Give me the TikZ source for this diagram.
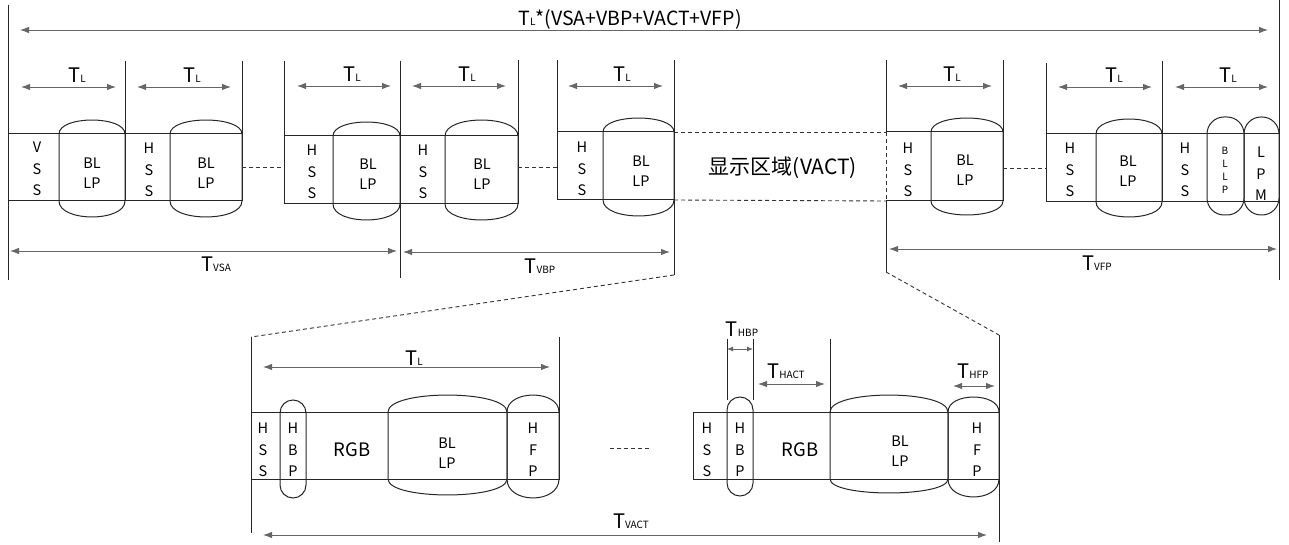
\documentclass[tikz,border=0pt]{standalone}
\usepackage{fontspec}
\setmainfont{Noto Sans CJK SC}
\usetikzlibrary{arrows.meta}
\tikzset{
  ln/.style={line width=1pt, draw=black!85},
  dim/.style={line width=0.9pt, draw=black!60, {Latex[length=9pt,width=6.5pt]}-{Latex[length=9pt,width=6.5pt]}},
  dimsmall/.style={line width=0.9pt, draw=black!60, {Latex[length=6pt,width=5pt]}-{Latex[length=6pt,width=5pt]}},
  dsh/.style={line width=0.9pt, draw=black!80, dash pattern=on 4pt off 3pt},
  txt/.style={font=\fontsize{14.5}{21.5}\selectfont, align=center, inner sep=0pt},
  tiny/.style={font=\fontsize{10}{13}\selectfont, align=center, inner sep=0pt},
  lab/.style={anchor=base, inner sep=0pt},
  pill/.style={ln, rounded corners=13pt},
  bigpill/.style={ln, rounded corners=17pt}
}
\newcommand\TT[1]{{\fontsize{20}{20}\selectfont T}{\fontsize{10}{10}\selectfont #1}}
\newcommand\bulge[6]{\draw[ln] (#1,#3) .. controls (#1,#3-1.33*#5) and (#2,#3-1.33*#5) .. (#2,#3) -- (#2,#4) .. controls (#2,#4+1.33*#6) and (#1,#4+1.33*#6) .. (#1,#4) -- cycle;}
\newcommand\dimar[5][dim]{\coordinate (#2-l) at (#3,#5); \coordinate (#2-r) at (#4,#5); \draw[#1] (#2-l) -- (#2-r);}
\begin{document}
\begin{tikzpicture}[x=1pt,y=-1pt]
\useasboundingbox (0,0) rectangle (1289,545);

% vertical guide lines
\foreach \x/\a/\b in {8/5/280, 125/61/134, 242/61/134, 284/61/136, 400/61/278, 518/60/136, 557/60/132, 674/60/275, 1003/60/132, 1046/63/134, 1162/61/134, 1279/0/280, 251/337/533, 559/337/412, 727/339/400, 753/339/400, 830/339/412, 999/335/542}
  \draw[ln] (\x,\a) -- (\x,\b);
\draw[ln] (886,60) -- (886,132);
\draw[dsh] (886,132) -- (886,201);
\draw[ln] (886,201) -- (886,272);

% top row boxes
\draw[ln] (8,134) rectangle (125,201);
\draw[ln] (125,134) rectangle (242,201);
\draw[ln] (284,136) rectangle (400,204);
\draw[ln] (400,136) rectangle (518,204);
\draw[ln] (557,132) rectangle (674,200);
\draw[dsh] (674,132) -- (886,132);
\draw[dsh] (674,200) -- (886,201);
\draw[ln] (886,132) -- (1003,132) -- (1003,201) -- (886,201);
\draw[ln] (1046,134) rectangle (1162,202);
\draw[ln] (1162,134) rectangle (1279,202);

% top bulges
\bulge{59}{125}{134}{201}{14}{16}
\bulge{170}{242}{134}{201}{14}{16}
\bulge{333}{400}{136}{204}{14}{16}
\bulge{445}{518}{136}{204}{16}{16}
\bulge{603}{674}{132}{200}{14}{16}
\bulge{931}{1003}{132}{201}{14}{14}
\bulge{1096}{1162}{134}{202}{15}{15}
\draw[bigpill] (1207,117) rectangle (1244,215);
\draw[bigpill] (1244,117) rectangle (1279,215);

% bottom boxes
\draw[ln] (251,412) rectangle (559,479);
\draw[ln] (693,412) rectangle (999,479);
\bulge{388}{507}{412}{479}{17}{16}
\bulge{507}{559}{412}{479}{17}{19}
\bulge{830}{948}{412}{479}{17}{14}
\bulge{948}{999}{412}{479}{15}{18}
\draw[pill] (280,400) rectangle (306,498);
\draw[pill] (727,397) rectangle (753,496);

% dashed links
\draw[dsh] (242,167) -- (284,167);
\draw[dsh] (518,167) -- (557,167);
\draw[dsh] (1003,168) -- (1046,168);
\draw[dsh] (610,448) -- (650,448);
\draw[dsh] (674,275) -- (251,337);
\draw[dsh] (886,272) -- (999,335);

% dimension arrows
\dimar{tot}{20}{1268}{30}
\dimar{a1}{21}{116}{87}
\dimar{a2}{137}{231}{87}
\dimar{a3}{297}{391}{86}
\dimar{a4}{412}{506}{86}
\dimar{a5}{568}{663}{86}
\dimar{a6}{898}{992}{86}
\dimar{a7}{1058}{1152}{87}
\dimar{a8}{1175}{1268}{87}
\dimar{vsa}{10}{397}{251}
\dimar{vbp}{403}{670}{252}
\dimar{vfp}{889}{1277}{249}
\dimar{bl}{263}{550}{367}
\dimar[dimsmall]{hbp}{727}{753}{349}
\dimar{hact}{758}{825}{384}
\dimar{hfp}{953}{995}{386}
\dimar{vact}{263}{987}{535}

% labels
\node[lab] (title) at (630,26) {{\fontsize{19.5}{19.5}\selectfont T}{\fontsize{10}{10}\selectfont L}{\fontsize{19.5}{19.5}\selectfont *(VSA+VBP+VACT+VFP)}};
\foreach \n/\x/\y in {1/77/83, 2/192/83, 3/352/82, 4/467/82, 5/622/82, 6/952/82, 7/1114/83, 8/1228/83}
  \node[lab] (tl\n) at (\x,\y) {\TT{L}};
\node[lab] (tvsa) at (216,271) {\TT{VSA}};
\node[lab] (tvbp) at (540,273) {\TT{VBP}};
\node[lab] (tvfp) at (1097,270) {\TT{VFP}};
\node[lab] (tlb) at (414,365) {\TT{L}};
\node[lab] (thbp) at (742,336) {\TT{HBP}};
\node[lab] (thact) at (786,378) {\TT{HACT}};
\node[lab] (thfp) at (973,378) {\TT{HFP}};
\node[lab] (tvact) at (631,528) {\TT{VACT}};

% box texts top
\node[txt] (vss) at (37,169) {V\\S\\S};
\node[txt] (h2) at (149,170) {H\\S\\S};
\node[txt] (h3) at (312,172) {H\\S\\S};
\node[txt] (h4) at (423,172) {H\\S\\S};
\node[txt] (h5) at (582,169) {H\\S\\S};
\node[txt] (h6) at (908,170) {H\\S\\S};
\node[txt] (h7) at (1070,170) {H\\S\\S};
\node[txt] (h8) at (1185,170) {H\\S\\S};
\foreach \n/\x/\y in {1/92/173, 2/206/173, 3/368/174, 4/482/174, 5/641/171, 6/965/170, 7/1128/171}
  \node[txt, font=\fontsize{14.5}{20}\selectfont] (bl\n) at (\x,\y) {BL\\LP};
\node[tiny] (bllp8) at (1225,170) {B\\L\\L\\P};
\node[txt] (lpm) at (1261,174) {L\\P\\M};
\node[inner sep=0pt, font=\fontsize{21}{21}\selectfont] (vactxt) at (783,168) {显示区域(VACT)};

% box texts bottom
\node[txt] (bh1) at (263,450) {H\\S\\S};
\node[txt] (bp1) at (293,450) {H\\B\\P};
\node[inner sep=0pt, font=\fontsize{18.5}{18.5}\selectfont] (rgb1) at (352,450) {RGB};
\node[txt, font=\fontsize{14.5}{20}\selectfont] (bbl1) at (447,453) {BL\\LP};
\node[txt] (hfp1) at (533,450) {H\\F\\P};
\node[txt] (bh2) at (707,450) {H\\S\\S};
\node[txt] (bp2) at (740,450) {H\\B\\P};
\node[inner sep=0pt, font=\fontsize{18.5}{18.5}\selectfont] (rgb2) at (800,450) {RGB};
\node[txt, font=\fontsize{14.5}{20}\selectfont] (bbl2) at (900,451) {BL\\LP};
\node[txt] (hfp2) at (977,450) {H\\F\\P};
\end{tikzpicture}
\end{document}
